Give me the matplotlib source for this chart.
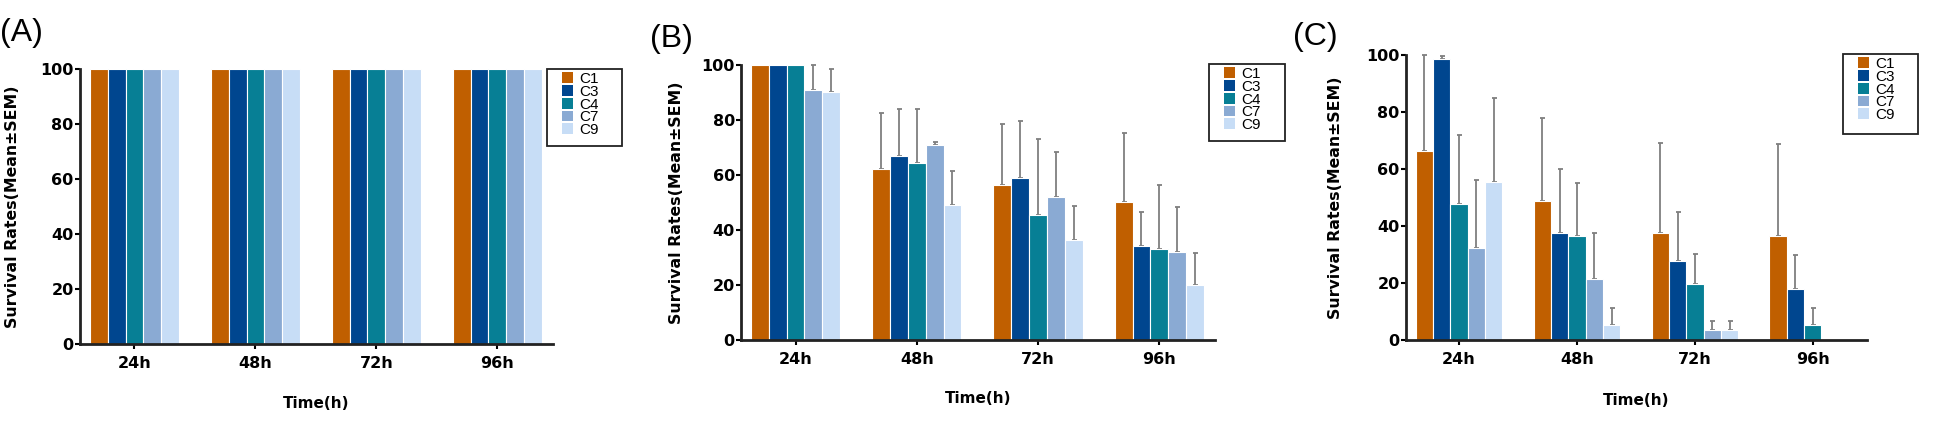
import numpy as np
import matplotlib
matplotlib.use('Agg')
import matplotlib.pyplot as plt
from matplotlib.patches import Patch, Rectangle

plt.rcParams['font.family'] = ['DejaVu Sans']

times = ['24h', '48h', '72h', '96h']
groups = ['C1', 'C3', 'C4', 'C7', 'C9']
colors = ['#C05F00', '#00468F', '#077F95', '#8AAAD3', '#C7DDF6']

# panel A: all survived
a_mean = {
    'C1': [100, 100, 100, 100],
    'C3': [100, 100, 100, 100],
    'C4': [100, 100, 100, 100],
    'C7': [100, 100, 100, 100],
    'C9': [100, 100, 100, 100],
}
a_sem = {g: [0, 0, 0, 0] for g in groups}

# panel B
b_mean = {
    'C1': [100, 62, 56.5, 50],
    'C3': [100, 67, 59, 34.2],
    'C4': [100, 64.5, 45.5, 33],
    'C7': [91, 71, 52, 32],
    'C9': [90, 49, 36.5, 20],
}
b_sem = {
    'C1': [0, 20.5, 22, 25.3],
    'C3': [0, 17, 20.5, 12.3],
    'C4': [0, 19.5, 27.7, 23.4],
    'C7': [9, 1, 16.4, 16.4],
    'C9': [8.5, 12.6, 12.2, 11.6],
}

# panel C
c_mean = {
    'C1': [66.4, 48.7, 37.7, 36.6],
    'C3': [98.5, 37.7, 27.8, 17.8],
    'C4': [47.7, 36.6, 19.8, 5.4],
    'C7': [32.3, 21.3, 3.4, 0],
    'C9': [55.3, 5.4, 3.4, 0],
}
c_sem = {
    'C1': [33.6, 29.1, 31.3, 32],
    'C3': [1.3, 22.3, 17.2, 11.9],
    'C4': [24.2, 18.5, 10.4, 5.7],
    'C7': [23.8, 16.2, 3.3, 0],
    'C9': [29.7, 5.7, 3.3, 0],
}

W, H = 1950, 424
fig = plt.figure(figsize=(W / 100, H / 100), dpi=100)


def px_axes(left, right, bottom, top):
    return fig.add_axes([left / W, (H - bottom) / H, (right - left) / W, (bottom - top) / H])


def draw(ax, means, sems):
    x = np.arange(len(times))
    bw = 0.147
    for i, g in enumerate(groups):
        pos = x + (i - 2) * bw
        m = np.array(means[g], dtype=float)
        s = np.array(sems[g], dtype=float)
        ax.bar(pos, m, bw, color=colors[i], edgecolor='white', linewidth=0.8, zorder=2)
        k = s > 0
        if k.any():
            ax.errorbar(pos[k], m[k], yerr=[np.zeros(k.sum()), s[k]], fmt='none',
                        ecolor='#7f7f7f', elinewidth=1.3, capsize=1.8, capthick=1.3,
                        zorder=1, clip_on=False)
    ax.set_xlim(-0.45, 3.46)
    ax.set_ylim(0, 100)
    ax.set_yticks([0, 20, 40, 60, 80, 100])
    ax.set_xticks(x)
    ax.set_xticklabels(times)
    for sp in ['top', 'right']:
        ax.spines[sp].set_visible(False)
    for sp in ['left', 'bottom']:
        ax.spines[sp].set_linewidth(2)
        ax.spines[sp].set_color('#222222')
    ax.tick_params(axis='y', length=3.5, width=1.5, pad=1, labelsize=11.5)
    ax.tick_params(axis='x', length=3.5, width=1.5, pad=5, labelsize=11.5)
    for t in ax.get_xticklabels() + ax.get_yticklabels():
        t.set_fontweight('bold')
    ax.set_ylabel('Survival Rates(Mean±SEM)', fontsize=11.3, fontweight='bold')
    ax.set_xlabel('Time(h)', fontsize=11, fontweight='bold')


def legend(x0, y0, x1, y1):
    # box drawn by hand, entries placed inside it
    handles = [Patch(facecolor=c, edgecolor='none') for c in colors]
    fig.legend(handles, groups, loc='upper left',
               bbox_to_anchor=((x0 + 15) / W, (H - y0 - 3) / H),
               prop={'family': 'Liberation Sans', 'size': 11},
               frameon=False, handlelength=0.75, handleheight=0.7, handletextpad=0.4,
               labelspacing=-0.08, borderpad=0, borderaxespad=0)
    fig.patches.append(Rectangle((x0 / W, (H - y1) / H), (x1 - x0) / W, (y1 - y0) / H,
                                 transform=fig.transFigure, fill=False,
                                 edgecolor='#222222', linewidth=1.3))


axA = px_axes(80, 553, 344, 69)
draw(axA, a_mean, a_sem)
axA.yaxis.set_label_coords(-0.126, 0.5)
axA.xaxis.set_label_coords(0.5, -0.189)
legend(547, 69, 622, 146)

axB = px_axes(741, 1215, 340, 65)
draw(axB, b_mean, b_sem)
axB.yaxis.set_label_coords(-0.121, 0.5)
axB.xaxis.set_label_coords(0.5, -0.185)
legend(1209, 64, 1285, 141)

axC = px_axes(1406, 1867, 340, 55)
draw(axC, c_mean, c_sem)
axC.yaxis.set_label_coords(-0.136, 0.5)
axC.xaxis.set_label_coords(0.5, -0.186)
legend(1843, 54, 1918, 134)

for lx, ly, lab in [(0, 41, '(A)'), (650, 47, '(B)'), (1293, 45, '(C)')]:
    fig.text(lx / W, (H - ly) / H, lab, fontsize=23, ha='left', va='baseline',
             family='Liberation Sans')

fig.savefig('out.png', dpi=100)
